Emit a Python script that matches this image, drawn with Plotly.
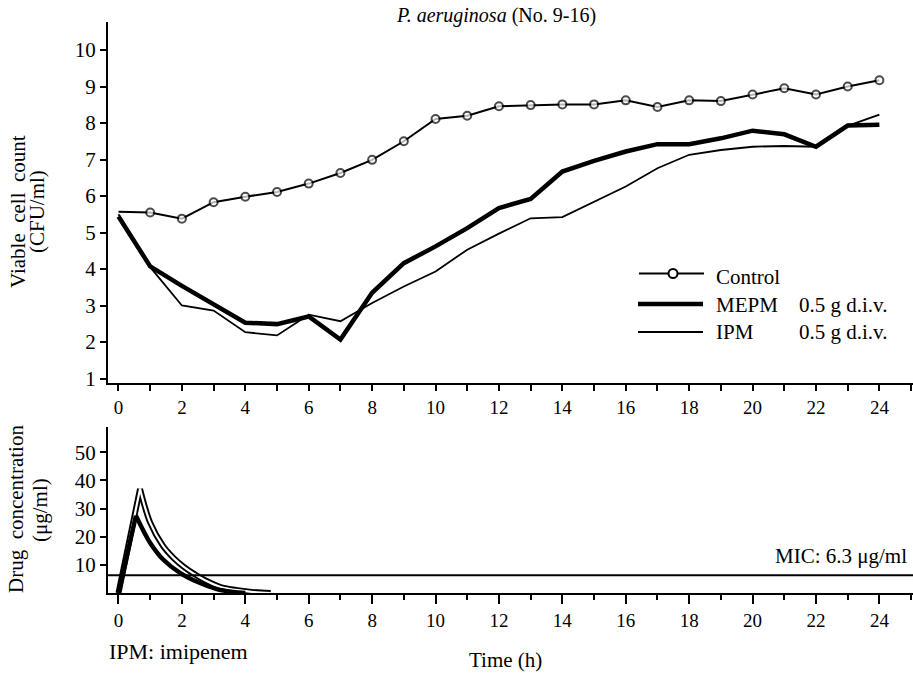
import plotly.graph_objects as go

# ---------------- data ----------------
hours = list(range(25))
control = [5.57, 5.55, 5.38, 5.83, 5.98, 6.11, 6.34, 6.63, 6.99, 7.50, 8.11, 8.20, 8.46,
           8.49, 8.51, 8.51, 8.62, 8.44, 8.62, 8.60, 8.78, 8.95, 8.78, 9.00, 9.17]
mepm = [5.44, 4.07, 3.54, 3.02, 2.53, 2.49, 2.70, 2.07, 3.35, 4.16, 4.62, 5.12, 5.67,
        5.92, 6.67, 6.96, 7.22, 7.42, 7.42, 7.58, 7.79, 7.69, 7.35, 7.93, 7.95]
ipm = [5.50, 4.05, 3.00, 2.86, 2.27, 2.18, 2.75, 2.57, 3.07, 3.52, 3.93, 4.53, 4.97,
       5.39, 5.42, 5.85, 6.26, 6.76, 7.13, 7.26, 7.35, 7.37, 7.35, 7.92, 8.23]

ipm_conc_t = [0, 0.68, 1.0, 1.4, 1.75, 2.05, 2.4, 2.7, 3.2, 3.7, 4.2, 4.8]
ipm_conc = [0, 37.0, 25.0, 16.8, 12.3, 9.4, 6.7, 4.7, 2.2, 1.1, 0.4, 0]
mepm_conc_t = [0, 0.55, 0.8, 1.0, 1.4, 1.95, 2.5, 3.1, 3.6, 4.0]
mepm_conc = [0, 27.5, 21.8, 17.8, 12.0, 7.1, 3.9, 1.4, 0.4, 0]
mic = 6.3

top_yticks = list(range(1, 11))
bottom_yticks = [10, 20, 30, 40, 50]
xticks = list(range(0, 25, 2))

FONT = "Liberation Serif"

# ---------------- geometry (page pixels; body margin removed by post_script) ----------------
W, H = 913, 676
PLOT_L, PLOT_R, PLOT_T, PLOT_B = 108, 913, 22, 593     # plot area in page pixels
ML = PLOT_L
MR = W - PLOT_R
MT = PLOT_T
MB = H - PLOT_B
PW, PH = PLOT_R - PLOT_L, PLOT_B - PLOT_T


def px(x):
    return (x - PLOT_L) / PW


def py(y):
    return (PLOT_B - y) / PH


fig = go.Figure()

# top panel
fig.add_trace(go.Scatter(x=hours, y=ipm, mode="lines",
                         line=dict(color="black", width=1.8), xaxis="x", yaxis="y"))
fig.add_trace(go.Scatter(x=hours, y=mepm, mode="lines",
                         line=dict(color="black", width=4.5), xaxis="x", yaxis="y"))
sizes = [0] + [8] * (len(hours) - 1)
fig.add_trace(go.Scatter(x=hours, y=control, mode="lines+markers",
                         line=dict(color="black", width=2),
                         marker=dict(symbol="circle", size=sizes, color="white",
                                     line=dict(color="black", width=2)),
                         xaxis="x", yaxis="y"))

# bottom panel: IPM hollow line
for sl, shape in ((slice(0, 2), "linear"), (slice(1, None), "spline")):
    fig.add_trace(go.Scatter(x=ipm_conc_t[sl], y=ipm_conc[sl], mode="lines",
                             line=dict(color="black", width=6, shape=shape),
                             xaxis="x2", yaxis="y2"))
for sl, shape in ((slice(0, 2), "linear"), (slice(1, None), "spline")):
    fig.add_trace(go.Scatter(x=ipm_conc_t[sl], y=ipm_conc[sl], mode="lines",
                             line=dict(color="white", width=2.2, shape=shape),
                             xaxis="x2", yaxis="y2"))
for sl, shape in ((slice(0, 2), "linear"), (slice(1, None), "spline")):
    fig.add_trace(go.Scatter(x=mepm_conc_t[sl], y=mepm_conc[sl], mode="lines",
                             line=dict(color="black", width=4.5, shape=shape),
                             xaxis="x2", yaxis="y2"))

xr = [-0.331, 25.06]
axis_common = dict(showline=True, linecolor="black", linewidth=2, showgrid=False,
                   zeroline=False, ticks="outside", tickcolor="black", tickwidth=2,
                   tickfont=dict(family=FONT, size=19, color="black"))
ytickfont = dict(family=FONT, size=21, color="black")

fig.update_layout(
    width=W, height=H, autosize=False,
    margin=dict(l=ML, r=MR, t=MT, b=MB, pad=0),
    paper_bgcolor="white", plot_bgcolor="white",
    showlegend=False, hovermode=False,
    font=dict(family=FONT, color="black"),
    xaxis=dict(**axis_common, range=xr, domain=[0, 1], anchor="y",
               tickmode="array", tickvals=xticks, ticklen=6,
               minor=dict(dtick=1, tick0=0, ticks="outside", ticklen=6,
                          tickwidth=2, tickcolor="black", showgrid=False)),
    yaxis=dict(**{**axis_common, "tickfont": ytickfont},
               range=[0.877, 10.767], domain=[py(383), 1], anchor="x",
               tickmode="array", tickvals=top_yticks, ticklen=6),
    xaxis2=dict(**axis_common, range=xr, domain=[0, 1], anchor="y2",
                tickmode="array", tickvals=xticks, ticklen=9,
                minor=dict(dtick=1, tick0=0, ticks="outside", ticklen=5,
                           tickwidth=2, tickcolor="black", showgrid=False)),
    yaxis2=dict(**{**axis_common, "tickfont": ytickfont},
                range=[0, 59.0], domain=[0, py(427)], anchor="x2",
                tickmode="array", tickvals=bottom_yticks, ticklen=6),
)

shapes = []
# MIC line
shapes.append(dict(type="line", xref="paper", yref="y2", x0=0, x1=1, y0=mic, y1=mic,
                   line=dict(color="black", width=2)))
# legend samples
shapes.append(dict(type="line", xref="paper", yref="paper", x0=px(639), x1=px(704),
                   y0=py(273.5), y1=py(273.5), line=dict(color="black", width=2)))
shapes.append(dict(type="circle", xref="paper", yref="paper", xsizemode="pixel",
                   ysizemode="pixel", xanchor=px(673), yanchor=py(273.5),
                   x0=-4.5, x1=4.5, y0=-4.5, y1=4.5, fillcolor="white",
                   line=dict(color="black", width=2)))
shapes.append(dict(type="line", xref="paper", yref="paper", x0=px(638), x1=px(703),
                   y0=py(304), y1=py(304), line=dict(color="black", width=4.5)))
shapes.append(dict(type="line", xref="paper", yref="paper", x0=px(638), x1=px(703),
                   y0=py(332), y1=py(332), line=dict(color="black", width=1.8)))
fig.update_layout(shapes=shapes)

ann = []


def text(t, x, y, size, xanchor="center", angle=0):
    ann.append(dict(text=t, x=px(x), y=py(y), xref="paper", yref="paper",
                    xanchor=xanchor, yanchor="middle", showarrow=False, textangle=angle,
                    font=dict(family=FONT, size=size, color="black")))


text("<i>P. aeruginosa</i> (No. 9-16)", 496, 15, 20)
text("Control", 714, 277, 21, "left")
text("MEPM", 714, 305, 21, "left")
text("IPM", 714, 332, 21, "left")
text("0.5 g d.i.v.", 797, 305, 21, "left")
text("0.5 g d.i.v.", 797, 332, 21, "left")
text("MIC: 6.3 \u03bcg/ml", 909, 556, 21, "right")
text("IPM: imipenem", 107, 651, 22, "left")
text("Time (h)", 505, 660, 21)
text("Viable  cell  count", 18, 212, 21, angle=-90)
text("(CFU/ml)", 37, 212, 21, angle=-90)
text("Drug  concentration", 16, 509, 21, angle=-90)
text("(\u03bcg/ml)", 40, 510, 21, angle=-90)
fig.update_layout(annotations=ann)

fig.write_html("out.html",
               config={"displayModeBar": False, "staticPlot": True},
               post_script="document.body.style.margin='0px';"
                           "document.body.style.overflow='hidden';")
